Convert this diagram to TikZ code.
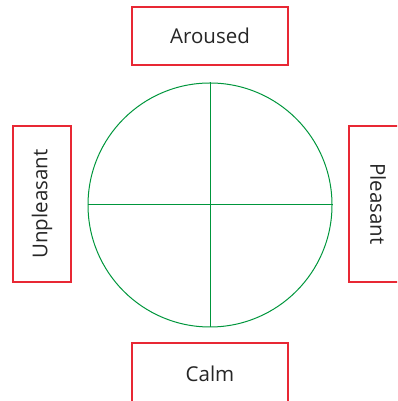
\documentclass[tikz,border=0pt]{standalone}
\usepackage{fontspec}
\setmainfont{Open Sans}
\definecolor{boxred}{RGB}{232,40,52}
\definecolor{circgreen}{RGB}{0,150,60}
\begin{document}
\begin{tikzpicture}[x=1pt,y=1pt,
  label box/.style={draw=boxred,line width=1.1pt,fill=white,minimum width=156pt,minimum height=58pt,inner sep=0pt,font=\fontsize{20.5}{24}\selectfont,text=black!85},
  wheel/.style={draw=circgreen,line width=1pt}]
\useasboundingbox (0,0) rectangle (397,401);
\clip (0,0) rectangle (397,401);
\node[circle,wheel,minimum size=244pt,inner sep=0pt] (c) at (210,196) {};
\draw[wheel] (c.west) -- (c.east);
\draw[wheel] (c.north) -- (c.south);
\node[label box] (ar) at (210,365) {Aroused};
\node[label box,minimum height=62pt] (ca) at (210,27) {Calm};
\node[label box,rotate=90] (un) at (42,197) {Unpleasant};
\node[label box,rotate=-90] (pl) at (378,197) {Pleasant};
\end{tikzpicture}
\end{document}
